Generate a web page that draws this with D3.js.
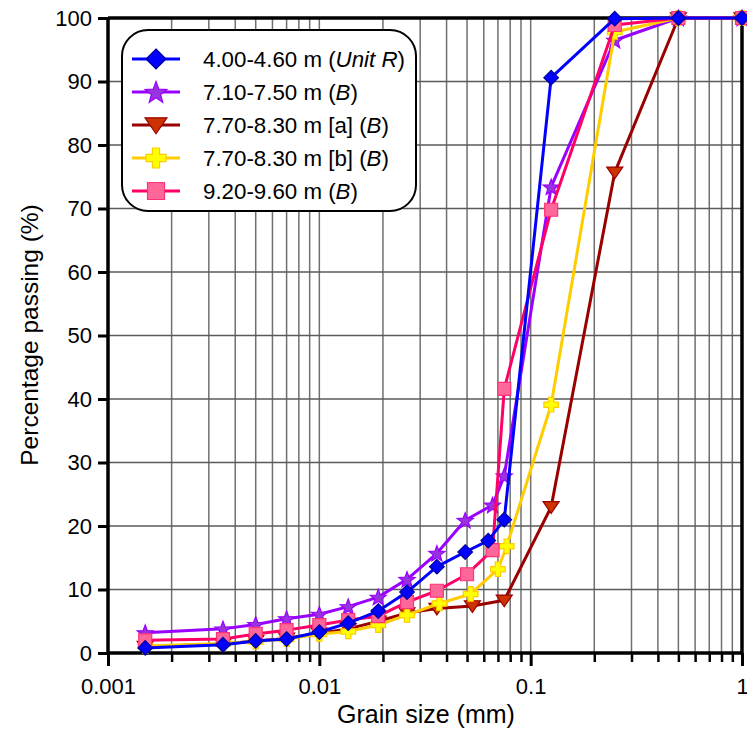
<!DOCTYPE html>
<html>
<head>
<meta charset="utf-8">
<script src="https://cdn.jsdelivr.net/npm/d3@7"></script>
<style>
html,body{margin:0;padding:0;background:#fff;}
svg{display:block;font-family:"Liberation Sans",Arial,sans-serif;}
</style>
</head>
<body>
<svg id="chart" width="747" height="729"></svg>
<script>
// ---- Data ----
const xTickLabels = ["0.001", "0.01", "0.1", "1"];
const yTickLabels = [0,10,20,30,40,50,60,70,80,90,100];

const unitRX = [0.0015,0.0035,0.005,0.007,0.01,0.0137,0.019,0.026,0.036,0.049,0.063,0.075,0.125,0.25,0.5,1];
const unitRY = [0.8,1.3,1.9,2.2,3.3,4.7,6.6,9.6,13.6,15.9,17.7,21.0,90.6,99.9,100,100];

const b710X = [0.0015,0.0035,0.005,0.007,0.01,0.0137,0.019,0.026,0.036,0.049,0.066,0.075,0.125,0.25,0.5,1];
const b710Y = [3.2,3.8,4.5,5.4,6.1,7.3,8.8,11.6,15.7,20.9,23.3,27.9,73.4,96.5,100,100];

const b770aX = [0.0015,0.0035,0.005,0.007,0.01,0.0137,0.019,0.026,0.036,0.053,0.075,0.125,0.25,0.5,1];
const b770aY = [1.0,1.4,1.9,2.3,3.1,3.8,5.0,6.3,7.0,7.4,8.3,23.0,75.7,100,100];

const b770bX = [0.0015,0.0035,0.005,0.007,0.01,0.0137,0.019,0.026,0.037,0.052,0.07,0.077,0.125,0.25,0.5,1];
const b770bY = [1.1,1.5,1.8,2.2,3.0,3.4,4.4,6.0,7.8,9.3,13.2,16.8,39.1,97.8,100,100];

const b920X = [0.0015,0.0035,0.005,0.007,0.01,0.0137,0.019,0.026,0.036,0.05,0.066,0.075,0.125,0.25,0.5,1];
const b920Y = [2.0,2.2,3.0,3.6,4.4,5.2,5.8,8.0,9.8,12.4,16.2,41.6,69.8,98.9,100,100];

const seriesNames = [
  ["4.00-4.60 m (", "Unit R", ")"],
  ["7.10-7.50 m (", "B", ")"],
  ["7.70-8.30 m [a] (", "B", ")"],
  ["7.70-8.30 m [b] (", "B", ")"],
  ["9.20-9.60 m (", "B", ")"]
];

const series = [
  {name: seriesNames[0], xs: unitRX, ys: unitRY, shape: "diamond", line: "#0000FF", fill: "#0000FF", stroke: "#000099"},
  {name: seriesNames[1], xs: b710X, ys: b710Y, shape: "star", line: "#9900FF", fill: "#9933DD", stroke: "#9900FF"},
  {name: seriesNames[2], xs: b770aX, ys: b770aY, shape: "tri", line: "#990000", fill: "#CC3300", stroke: "#990000"},
  {name: seriesNames[3], xs: b770bX, ys: b770bY, shape: "plus", line: "#FFCC00", fill: "#FFFF00", stroke: "#FFCC00"},
  {name: seriesNames[4], xs: b920X, ys: b920Y, shape: "square", line: "#FF0066", fill: "#FF6699", stroke: "#FF3377"}
];
const drawOrder = [1, 2, 3, 4, 0];

// ---- Layout ----
const svg = d3.select("#chart");
const L = 108, R = 742, T = 18, B = 653;
const x = d3.scaleLog().domain([0.001, 1]).range([L, R]);
const y = d3.scaleLinear().domain([0, 100]).range([B, T]);

// shape paths (r = half size)
function shapePath(shape, r) {
  const p = d3.path();
  if (shape === "diamond") {
    p.moveTo(0,-r); p.lineTo(r,0); p.lineTo(0,r); p.lineTo(-r,0); p.closePath();
  } else if (shape === "square") {
    p.rect(-r,-r,2*r,2*r);
  } else if (shape === "tri") {
    const h = r*1.6;
    p.moveTo(-r*1.1,-h*0.45); p.lineTo(r*1.1,-h*0.45); p.lineTo(0,h*0.55); p.closePath();
  } else if (shape === "plus") {
    const a = r*0.36;
    p.moveTo(-a,-r); p.lineTo(a,-r); p.lineTo(a,-a); p.lineTo(r,-a); p.lineTo(r,a); p.lineTo(a,a);
    p.lineTo(a,r); p.lineTo(-a,r); p.lineTo(-a,a); p.lineTo(-r,a); p.lineTo(-r,-a); p.lineTo(-a,-a); p.closePath();
  } else if (shape === "star") {
    const ro = r*1.15, ri = ro*0.42;
    for (let i=0;i<10;i++){
      const rr = i%2===0 ? ro : ri;
      const ang = -Math.PI/2 + i*Math.PI/5;
      const px = rr*Math.cos(ang), py = rr*Math.sin(ang)+r*0.1;
      if(i===0) p.moveTo(px,py); else p.lineTo(px,py);
    }
    p.closePath();
  }
  return p.toString();
}

// ---- Grid ----
const grid = svg.append("g");
const minorVals = [];
for (let e=-3;e<0;e++){ for(let k=1;k<=9;k++){ minorVals.push(k*Math.pow(10,e)); } }
minorVals.push(1);
grid.selectAll("line.v").data(minorVals).join("line")
  .attr("x1", d=>x(d)).attr("x2", d=>x(d)).attr("y1", T).attr("y2", B)
  .attr("stroke", "#707070").attr("stroke-width", 1.5);
grid.selectAll("line.h").data(yTickLabels).join("line")
  .attr("x1", L).attr("x2", R).attr("y1", d=>y(d)).attr("y2", d=>y(d))
  .attr("stroke", "#5a5a5a").attr("stroke-width", 1.6);

// ---- Axes ----
const majorVals = xTickLabels.map(Number);
const xAxisMinor = d3.axisBottom(x).tickValues(minorVals.filter(v=>!majorVals.some(m=>Math.abs(m-v)<1e-12))).tickSize(9).tickFormat("");
const xAxisMajor = d3.axisBottom(x).tickValues(majorVals).tickSize(13).tickPadding(12)
  .tickFormat((d,i)=>xTickLabels[i]);
const gxm = svg.append("g").attr("transform", `translate(0,${B})`).call(xAxisMinor);
gxm.select(".domain").remove();
gxm.selectAll("line").attr("stroke","#000").attr("stroke-width",2.5);
const gx = svg.append("g").attr("transform", `translate(0,${B})`).call(xAxisMajor);
gx.select(".domain").remove();
gx.selectAll("line").attr("stroke","#000").attr("stroke-width",3);
gx.selectAll("text").attr("font-size", 22).attr("fill","#000").attr("font-family","'Liberation Sans',Arial,sans-serif");

const yAxis = d3.axisLeft(y).tickValues(yTickLabels).tickSize(10).tickPadding(6).tickFormat(d=>String(d));
const gy = svg.append("g").attr("transform", `translate(${L},0)`).call(yAxis);
gy.select(".domain").remove();
gy.selectAll("line").attr("stroke","#000").attr("stroke-width",3);
gy.selectAll("text").attr("font-size", 22).attr("fill","#000").attr("font-family","'Liberation Sans',Arial,sans-serif");

// frame
svg.append("line").attr("x1",L).attr("x2",R).attr("y1",B).attr("y2",B).attr("stroke","#000").attr("stroke-width",3.5);
svg.append("line").attr("x1",L).attr("x2",L).attr("y1",T).attr("y2",B+1.5).attr("stroke","#000").attr("stroke-width",3.5);
svg.append("line").attr("x1",L).attr("x2",R).attr("y1",T).attr("y2",T).attr("stroke","#000").attr("stroke-width",3.5);
svg.append("line").attr("x1",R).attr("x2",R).attr("y1",T).attr("y2",B+1.5).attr("stroke","#000").attr("stroke-width",3.5);

// axis titles
svg.append("text").attr("x", 426).attr("y", 723).attr("text-anchor","middle")
  .attr("font-size", 25).text("Grain size (mm)");
svg.append("text").attr("transform","translate(38,335) rotate(-90)").attr("text-anchor","middle")
  .attr("font-size", 24.5).text("Percentage passing (%)");

// ---- Series ----
const lineGen = d3.line().x(d=>x(d[0])).y(d=>y(d[1]));
const gs = svg.append("g");
drawOrder.forEach(i=>{
  const s = series[i];
  const pts = s.xs.map((v,j)=>[v, s.ys[j]]);
  const g = gs.append("g");
  g.append("path").attr("d", lineGen(pts)).attr("fill","none")
    .attr("stroke", s.line).attr("stroke-width", 3).attr("stroke-linejoin","round");
  g.selectAll("path.m").data(pts).join("path").attr("class","m")
    .attr("transform", d=>`translate(${x(d[0])},${y(d[1])})`)
    .attr("d", shapePath(s.shape, s.shape==="square"?6.5:7.3))
    .attr("fill", s.fill).attr("stroke", s.stroke).attr("stroke-width", 1.2);
});

// ---- Legend ----
const lg = svg.append("g");
lg.append("rect").attr("x",122).attr("y",30).attr("width",294).attr("height",181)
  .attr("rx",26).attr("ry",26).attr("fill","#fff").attr("stroke","#000").attr("stroke-width",2);
const legY = [59, 92, 125, 158, 191];
series.forEach((s,i)=>{
  const yy = legY[i];
  lg.append("line").attr("x1",132).attr("x2",180).attr("y1",yy).attr("y2",yy)
    .attr("stroke", s.line).attr("stroke-width",3);
  lg.append("path").attr("transform",`translate(156,${yy})`)
    .attr("d", shapePath(s.shape, s.shape==="square"?8.5:10))
    .attr("fill", s.fill).attr("stroke", s.stroke).attr("stroke-width",1.2);
  const t = lg.append("text").attr("x",203).attr("y",yy+8).attr("font-size",22.3);
  t.append("tspan").text(s.name[0]);
  t.append("tspan").attr("font-style","italic").text(s.name[1]);
  t.append("tspan").text(s.name[2]);
});
</script>
</body>
</html>
